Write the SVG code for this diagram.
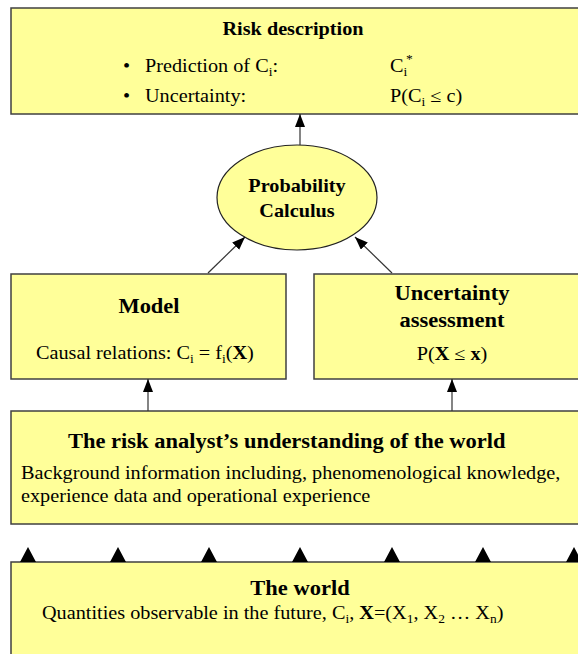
<svg xmlns="http://www.w3.org/2000/svg" width="578" height="654" viewBox="0 0 578 654">
<style>
.box{fill:#ffff99;stroke:#404040;stroke-width:1.5}
.t{font-family:"Liberation Serif","Times New Roman",serif;fill:#000}
.b{font-weight:bold}
.s18{font-size:18px}
.s20{font-size:20px}
.sub{font-size:12px}
.c{text-anchor:middle}
.con{stroke:#333;stroke-width:1.2;fill:none}
.tri{fill:#000}
</style>
<defs>
<marker id="ah" markerUnits="userSpaceOnUse" markerWidth="14" markerHeight="12" refX="13" refY="5" orient="auto">
<path d="M0,0 L13,5 L0,10 z" fill="#000"/>
</marker>
</defs>
<rect width="578" height="654" fill="#fff"/>

<g id="risk-description">
<rect class="box" x="11" y="8" width="580" height="106"/>
<text class="t b s18 c" transform="translate(293 35) scale(1.125 1)">Risk description</text>
<text class="t s18" transform="translate(123 72) scale(1.125 1)">•</text>
<text class="t s18" transform="translate(145 72) scale(1.125 1)">Prediction of C<tspan class="sub" dy="4">i</tspan><tspan dy="-4">:</tspan></text>
<text class="t s18" transform="translate(390 72) scale(1.125 1)">C<tspan class="sub" dy="4">i</tspan><tspan class="sub" dx="-1" dy="-13">*</tspan></text>
<text class="t s18" transform="translate(123 102) scale(1.125 1)">•</text>
<text class="t s18" transform="translate(145 102) scale(1.125 1)">Uncertainty:</text>
<text class="t s18" transform="translate(390 102) scale(1.125 1)">P(C<tspan class="sub" dy="4">i</tspan><tspan dy="-4"> ≤ c)</tspan></text>
</g>

<g id="probability-calculus">
<ellipse cx="297" cy="197.5" rx="80" ry="52.5" fill="#ffff99" stroke="#222" stroke-width="1.2"/>
<text class="t b s18 c" transform="translate(297 192) scale(1.125 1)">Probability</text>
<text class="t b s18 c" transform="translate(297 217) scale(1.125 1)">Calculus</text>
</g>

<g id="model">
<rect class="box" x="11" y="274" width="275" height="105"/>
<text class="t b s20 c" transform="translate(149 313) scale(1.125 1)">Model</text>
<text class="t s18" transform="translate(36 359) scale(1.125 1)">Causal relations: C<tspan class="sub" dy="4">i</tspan><tspan dy="-4"> = f</tspan><tspan class="sub" dy="4">i</tspan><tspan dy="-4">(</tspan><tspan class="b">X</tspan>)</text>
</g>

<g id="uncertainty-assessment">
<rect class="box" x="314" y="274" width="280" height="105"/>
<text class="t b s20 c" transform="translate(452 300) scale(1.125 1)">Uncertainty</text>
<text class="t b s20 c" transform="translate(452 327) scale(1.125 1)">assessment</text>
<text class="t s18 c" transform="translate(452 360) scale(1.125 1)">P(<tspan class="b">X</tspan> ≤ <tspan class="b">x</tspan>)</text>
</g>

<g id="understanding">
<rect class="box" x="11" y="411" width="580" height="113"/>
<text class="t b s20" transform="translate(68 448) scale(1.125 1)">The risk analyst’s understanding of the world</text>
<text class="t s18" transform="translate(21 479) scale(1.125 1)">Background information including, phenomenological knowledge,</text>
<text class="t s18" transform="translate(21 502) scale(1.125 1)">experience data and operational experience</text>
</g>

<g id="the-world">
<rect class="box" x="11" y="562" width="580" height="100"/>
<text class="t b s20 c" transform="translate(300 595) scale(1.125 1)">The world</text>
<text class="t s18" transform="translate(42 619) scale(1.125 1)">Quantities observable in the future, C<tspan class="sub" dy="4">i</tspan><tspan dy="-4">, </tspan><tspan class="b">X</tspan>=(X<tspan class="sub" dy="4">1</tspan><tspan dy="-4">, X</tspan><tspan class="sub" dy="4">2</tspan><tspan dy="-4"> … X</tspan><tspan class="sub" dy="4">n</tspan><tspan dy="-4">)</tspan></text>
</g>

<g id="connectors">
<line class="con" x1="300" y1="145" x2="300" y2="114" marker-end="url(#ah)"/>
<line class="con" x1="208" y1="273" x2="245" y2="237" marker-end="url(#ah)"/>
<line class="con" x1="392" y1="273" x2="355" y2="237" marker-end="url(#ah)"/>
<line class="con" x1="148" y1="411" x2="148" y2="379" marker-end="url(#ah)"/>
<line class="con" x1="452" y1="411" x2="452" y2="379" marker-end="url(#ah)"/>
<path class="tri" d="M20,562 L28,547 L36,562 z"/>
<path class="tri" d="M110,562 L118,547 L126,562 z"/>
<path class="tri" d="M201,562 L209,547 L217,562 z"/>
<path class="tri" d="M292,562 L300,547 L308,562 z"/>
<path class="tri" d="M384,562 L392,547 L400,562 z"/>
<path class="tri" d="M475,562 L483,547 L491,562 z"/>
<path class="tri" d="M566,562 L574,547 L582,562 z"/>
</g>
</svg>
